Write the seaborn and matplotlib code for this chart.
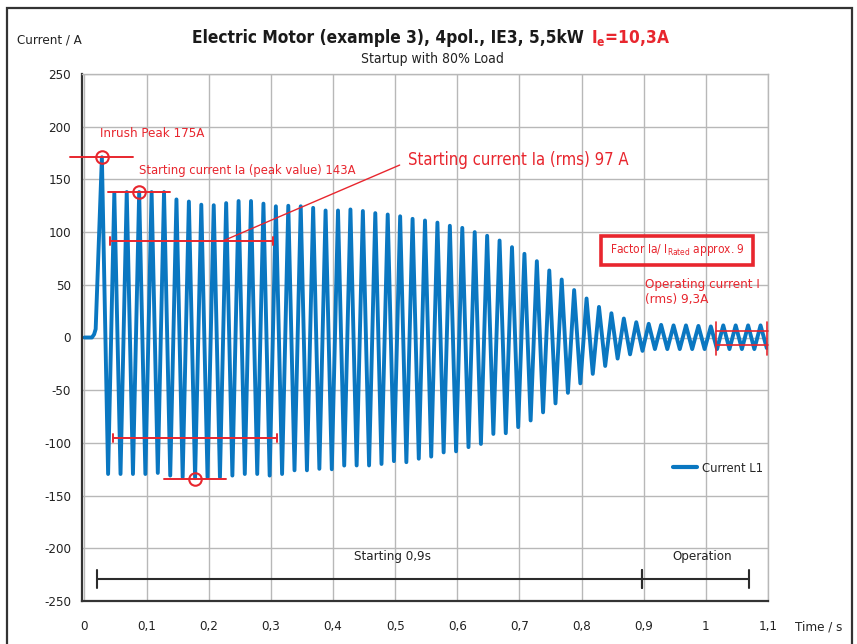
import numpy as np
import pandas as pd
import matplotlib
matplotlib.use('Agg')
import matplotlib.pyplot as plt
import seaborn as sns
from matplotlib.patches import Rectangle

# --- data ---
# start of the trace before the first half-wave
onset_time = [0.0, 0.012, 0.0155, 0.018]
onset_current = [0, 0, 3, 8]

# 50 Hz supply: peaks every half period, first positive peak at 28 ms
first_peak_time = 0.028
half_period = 0.01

pos_peaks = [171, 137, 138, 138, 138, 138, 131, 129, 126, 125.5,
             127.5, 129.5, 129.5, 127, 124.5, 125, 124.5, 123, 120.5, 120.5,
             121.5, 120, 118, 116.7, 115, 112.6, 111, 109, 106, 104,
             100, 96.5, 92, 85.7, 79.4, 72.4, 63.6, 55, 45, 37,
             29, 23, 18, 14.5, 13, 12, 11.5, 11.5, 11, 10.5,
             11.5, 11.5, 11.5, 11.5]
neg_peaks = [-129.5, -129.5, -129.5, -129.5, -128.5, -131, -132.6, -133.5, -132.6, -132.6,
             -131, -129.5, -129.5, -131, -129.5, -126, -126, -124.6, -125, -121.5,
             -121.4, -121.4, -120, -117.3, -118.3, -115, -113, -109, -108, -104,
             -101, -91.5, -90.8, -85, -78.7, -71, -62.5, -52.5, -43.5, -34.5,
             -27, -20, -16, -12.7, -11, -11, -11, -11, -11, -11,
             -11, -11, -11, -10]

x_ticks = [0, 0.1, 0.2, 0.3, 0.4, 0.5, 0.6, 0.7, 0.8, 0.9, 1.0, 1.1]
x_tick_labels = ['0', '0,1', '0,2', '0,3', '0,4', '0,5', '0,6', '0,7', '0,8', '0,9', '1', '1,1']
y_ticks = [-250, -200, -150, -100, -50, 0, 50, 100, 150, 200, 250]

BLUE = '#0a77c1'
RED = '#e8262e'
DARK = '#2b2b2b'

# build the trace: onset, then alternating positive / negative peaks
times = list(onset_time)
currents = list(onset_current)
for k in range(len(pos_peaks)):
    times.append(first_peak_time + 2 * k * half_period)
    currents.append(pos_peaks[k])
    times.append(first_peak_time + (2 * k + 1) * half_period)
    currents.append(neg_peaks[k])
df = pd.DataFrame({'time': times, 'current': currents})

sns.set_theme(style='whitegrid')
plt.rcParams['font.family'] = ['DejaVu Sans']
plt.rcParams['font.stretch'] = 'condensed'
plt.rcParams['axes.unicode_minus'] = False
plt.rcParams['mathtext.fontset'] = 'custom'
plt.rcParams['mathtext.rm'] = 'DejaVu Sans:stretch=condensed'
plt.rcParams['mathtext.bf'] = 'DejaVu Sans:bold:stretch=condensed'

W, H = 857, 644
fig = plt.figure(figsize=(W / 100, H / 100), dpi=100)
ax = fig.add_axes([82 / W, 43 / H, 686 / W, 527 / H])

sns.lineplot(data=df, x='time', y='current', ax=ax, color=BLUE, linewidth=2.8,
             label='Current L1', estimator=None, sort=False)

ax.set_xlim(-0.004, 1.1)
ax.set_ylim(-250, 250)
ax.set_xticks(x_ticks)
ax.set_xticklabels(x_tick_labels)
ax.set_yticks(y_ticks)
ax.set_xlabel('')
ax.set_ylabel('')
ax.grid(True, color='#b8b8b8', linewidth=1.0)
ax.tick_params(axis='both', length=0, labelsize=9.5, colors='#222222')
ax.tick_params(axis='x', pad=13.5)
ax.tick_params(axis='y', pad=8)
for side in ['left', 'bottom']:
    ax.spines[side].set_color('#333333')
    ax.spines[side].set_linewidth(1.6)
for side in ['top', 'right']:
    ax.spines[side].set_color('#b8b8b8')
    ax.spines[side].set_linewidth(1.0)

leg = ax.legend(loc='center right', bbox_to_anchor=(1.0, 0.252), frameon=False,
                handlelength=1.8, handletextpad=0.4, borderaxespad=0, fontsize=9.3)
for line in leg.get_lines():
    line.set_linewidth(3)


# --- red annotations ---
def hline(t0, t1, y, color=RED, lw=1.4):
    ax.plot([t0, t1], [y, y], color=color, lw=lw, clip_on=False, zorder=5)


def bar(t0, t1, y, h, color=RED, lw=1.4):
    hline(t0, t1, y, color, lw)
    for t in (t0, t1):
        ax.plot([t, t], [y - h, y + h], color=color, lw=lw, clip_on=False, zorder=5)


def ring(t, y):
    ax.plot([t], [y], 'o', ms=9, mfc='none', mec=RED, mew=1.5, clip_on=False, zorder=6)


hline(-0.023, 0.078, 171)
ring(0.0286, 171)
hline(0.038, 0.1375, 138.5)
ring(0.0876, 138.5)
hline(0.128, 0.2275, -134.3)
ring(0.1777, -134.3)

bar(0.041, 0.303, 91.6, 3.8)
bar(0.0463, 0.31, -95, 3.8)
ax.plot([0.2227, 0.5072], [91.6, 163.6], color=RED, lw=1.0, zorder=5)

ax.text(0.025, 194, 'Inrush Peak 175A', color=RED, fontsize=9.5, va='center')
ax.text(0.0876, 158.9, 'Starting current Ia (peak value) 143A', color=RED,
        fontsize=9.3, va='center')
ax.text(0.52, 168.4, 'Starting current Ia (rms) 97 A', color=RED, fontsize=12,
        va='center')

ax.add_patch(Rectangle((0.8315, 68.8), 0.2451, 27.8, fill=False, ec=RED, lw=2.6,
                       zorder=5, clip_on=False))
ax.text(0.954, 82.7, r'Factor Ia/ I$_{\mathrm{Rated}}$ approx. 9', color=RED,
        fontsize=8.6, ha='center', va='center')
ax.text(0.9027, 42.7, 'Operating current I\n(rms) 9,3A', color=RED, fontsize=9.6,
        va='center', linespacing=1.2)

hline(1.0169, 1.1, 6.2, lw=1.2)
hline(1.0169, 1.1, -7.1, lw=1.2)
for t in (1.0169, 1.099):
    ax.plot([t, t], [15, -16.6], color=RED, lw=1.2, clip_on=False, zorder=5)

# --- phase markers at the bottom ---
bar(0.0206, 0.8974, -228.9, 8.5, color=DARK, lw=1.5)
bar(0.8974, 1.07, -228.9, 8.5, color=DARK, lw=1.5)
ax.text(0.4965, -208, 'Starting 0,9s', color='#222222', fontsize=9.5,
        ha='center', va='center')
ax.text(0.994, -208, 'Operation', color='#222222', fontsize=9.5,
        ha='center', va='center')

# --- titles and axis captions ---
fig.text(589 / W, 1 - 38 / H, 'Electric Motor (example 3), 4pol., IE3, 5,5kW ',
         fontsize=12.4, fontweight='bold', ha='right', va='center', color='#1a1a1a')
fig.text(591 / W, 1 - 38 / H, r'I$_{\mathbf{e}}$=10,3A', fontsize=12.4,
         fontweight='bold', ha='left', va='center', color=RED)
fig.text(432 / W, 1 - 59 / H, 'Startup with 80% Load', fontsize=10, ha='center',
         va='center', color='#222222')
fig.text(17 / W, 1 - 40 / H, 'Current / A', fontsize=9.5, ha='left', va='center',
         color='#222222')
fig.text(795 / W, 1 - 627 / H, 'Time / s', fontsize=9.5, ha='left', va='center',
         color='#222222')

# outer frame
fig.add_artist(Rectangle((7 / W, -0.01), 845 / W, 1 - 8 / H + 0.01, fill=False,
                         ec='#333333', lw=1.6, transform=fig.transFigure))

fig.savefig('out.png', dpi=100)
